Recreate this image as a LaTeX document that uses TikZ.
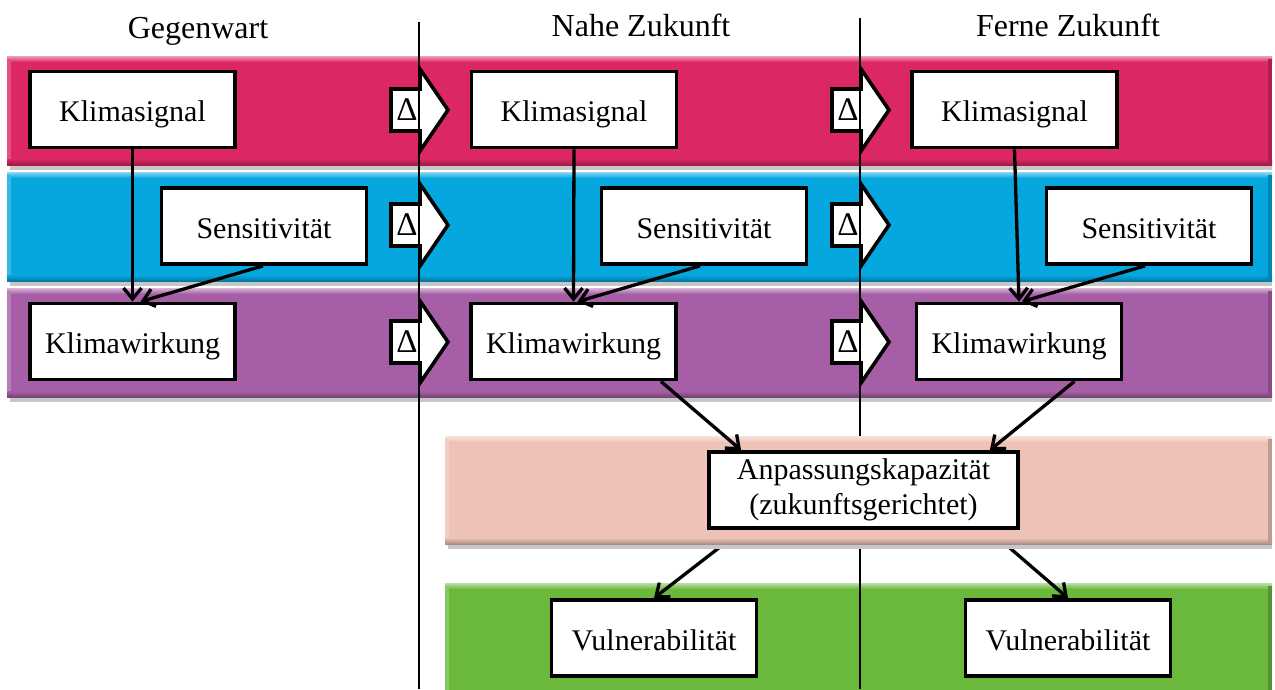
\documentclass[tikz,border=0pt]{standalone}
\usepackage{fontspec}
\setmainfont{Liberation Serif}
\usetikzlibrary{arrows.meta,calc}
\definecolor{cpink}{HTML}{DC2765}
\definecolor{cblue}{HTML}{06A6DF}
\definecolor{cpurple}{HTML}{A65FA6}
\definecolor{cpeach}{HTML}{EEC2B7}
\definecolor{cgreen}{HTML}{6AB93C}
\pgfdeclarelayer{bg}
\pgfdeclarelayer{mid}
\pgfdeclarelayer{peachl}
\pgfsetlayers{bg,mid,peachl,main}
\newcommand\myband[5]{%
  \fill[black!22] (#1+3,#4) rectangle (#3,#4+5);
  \fill[#5] (#1,#2) rectangle (#3,#4);
  \shade[top color=#5!45!white,bottom color=#5] (#1,#2) rectangle (#3,#2+6);
  \fill[#5!80!white] (#1,#2+3) rectangle (#1+4,#4);
  \shade[top color=#5,bottom color=#5!72!black] (#1,#4-6) rectangle (#3,#4);
  \fill[#5!80!black] (#3-4,#2+3) rectangle (#3,#4);
}
\newcommand\mydelta[3]{% left x, center y, name
  \draw[line width=3.6pt,fill=white,line join=miter]
    (#1,#2-21) -- (#1+29,#2-21) -- (#1+29,#2-41) -- (#1+57,#2) -- (#1+29,#2+41)
    -- (#1+29,#2+21) -- (#1,#2+21) -- cycle;
  \node[font=\fontsize{33}{36}\selectfont,inner sep=0pt] (#3) at (#1+16,#2) {Δ};
}
\tikzset{
  box/.style={draw,line width=3.8pt,fill=white,minimum width=205pt,minimum height=76pt,
    inner sep=2pt,font=\fontsize{30}{36}\selectfont,text height=24pt,text depth=0pt},
  head/.style={font=\fontsize{32}{36}\selectfont,anchor=base,inner sep=0pt},
  conn/.style={line width=3.3pt,-{Straight Barb[length=11pt,width=18pt,line width=3.3pt]}},
  vline/.style={line width=1.5pt}
}
\begin{document}
\begin{tikzpicture}[x=1pt,y=-1pt]
\useasboundingbox (0,0) rectangle (1275,689);
\begin{pgfonlayer}{bg}
  \myband{7}{56}{1272}{165}{cpink}
  \myband{7}{172}{1272}{281}{cblue}
  \myband{7}{288}{1272}{397}{cpurple}
  \myband{445}{583}{1272}{700}{cgreen}
  \mydelta{391}{110}{d1}
  \mydelta{391}{225}{d2}
  \mydelta{391}{342}{d3}
  \mydelta{832}{110}{d4}
  \mydelta{832}{225}{d5}
  \mydelta{832}{342}{d6}
\end{pgfonlayer}
\begin{pgfonlayer}{peachl}
  \myband{445}{436}{1272}{544}{cpeach}
\end{pgfonlayer}

\node[head] (h1) at (198,38) {Gegenwart};
\node[head] (h2) at (641,36) {Nahe Zukunft};
\node[head] (h3) at (1068,36) {Ferne Zukunft};
\coordinate (l1t) at (419,22);
\coordinate (l1b) at (419,689);
\coordinate (l2t) at (860,18);
\coordinate (l2b) at (860,689);

\node[box] (ks1) at (132.5,109.5) {Klimasignal};
\node[box] (ks2) at (574,109.5) {Klimasignal};
\node[box] (ks3) at (1014.5,109.5) {Klimasignal};
\node[box] (se1) at (264,226) {Sensitivität};
\node[box] (se2) at (704,226) {Sensitivität};
\node[box] (se3) at (1149,226) {Sensitivität};
\node[box] (kw1) at (132.5,341.5) {Klimawirkung};
\node[box] (kw2) at (573.5,341.5) {Klimawirkung};
\node[box] (kw3) at (1019,341.5) {Klimawirkung};
\node[box,minimum width=309pt,align=center,text height=,text depth=,
  font=\fontsize{30}{35}\selectfont] (anp) at (863.5,490) {Anpassungskapazität\\(zukunftsgerichtet)};
\node[box] (vu1) at (654,638) {Vulnerabilität};
\node[box] (vu2) at (1068,638) {Vulnerabilität};

\begin{pgfonlayer}{mid}
  \draw[vline] (l1t) -- (l1b);
  \draw[vline] (l2t) -- (l2b);
  \draw[conn] ($(anp.south west)+(35,0)$) -- (vu1.north);
  \draw[conn] ($(anp.south east)+(-31,0)$) -- (vu2.north);
\end{pgfonlayer}

\draw[conn] (ks1.south) -- (kw1.north);
\draw[conn] (ks2.south) -- (kw2.north);
\draw[conn] (ks3.south) -- (kw3.north);
\draw[conn] ($(se1.south)+(-1,0)$) -- ($(kw1.north)+(8,0)$);
\draw[conn] ($(se2.south)+(-4,0)$) -- ($(kw2.north)+(4,0)$);
\draw[conn] ($(se3.south)+(-4,0)$) -- ($(kw3.north)+(3,0)$);
\draw[conn] ($(kw2.south east)+(-17,0)$) -- ($(anp.north west)+(34,0)$);
\draw[conn] ($(kw3.south east)+(-49,0)$) -- ($(anp.north east)+(-30,0)$);
\end{tikzpicture}
\end{document}
